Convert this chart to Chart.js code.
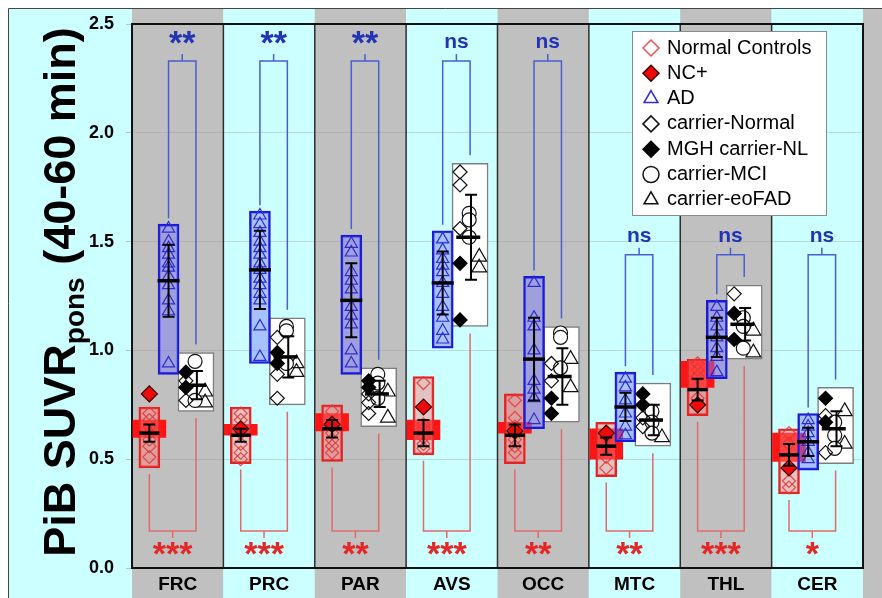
<!DOCTYPE html>
<html>
<head>
<meta charset="utf-8">
<script src="https://cdn.jsdelivr.net/npm/chart.js@4.4.0/dist/chart.umd.min.js"></script>
<style>
  html, body { margin: 0; padding: 0; background: #ffffff; }
  #wrap { width: 882px; height: 598px; }
</style>
</head>
<body>
<div id="wrap"><canvas id="chart" width="882" height="598"></canvas></div>
<script>
const regions = ["FRC", "PRC", "PAR", "AVS", "OCC", "MTC", "THL", "CER"];
const yTicks = [0, 0.5, 1.0, 1.5, 2.0, 2.5];

// Normal controls (range box, red band, mean, sd, single values)
const ncRange = [[0.46, 0.74], [0.48, 0.74], [0.49, 0.75], [0.52, 0.88], [0.48, 0.80], [0.42, 0.67], [0.70, 0.96], [0.34, 0.64]];
const ncBand = [[0.60, 0.68], [0.61, 0.66], [0.63, 0.71], [0.59, 0.68], [0.62, 0.67], [0.50, 0.64], [0.83, 0.95], [0.49, 0.62]];
const ncMean = [0.62, 0.61, 0.64, 0.62, 0.61, 0.56, 0.82, 0.52];
const ncSd = [0.04, 0.03, 0.04, 0.06, 0.05, 0.04, 0.05, 0.05];
const ncValues = [
  [0.71, 0.68, 0.65, 0.62, 0.59, 0.56, 0.51],
  [0.71, 0.68, 0.62, 0.57, 0.53, 0.50],
  [0.72, 0.67, 0.62, 0.59, 0.56, 0.53],
  [0.85, 0.66, 0.64, 0.60, 0.57, 0.55],
  [0.77, 0.69, 0.65, 0.62, 0.59, 0.56, 0.53],
  [0.60, 0.56, 0.51, 0.46],
  [0.94, 0.91, 0.88, 0.78],
  [0.62, 0.57, 0.40, 0.37]
];
const ncPlusValues = [[0.80], [0.64], [0.66], [0.74], [0.63], [0.62], [0.75], [0.46]];

// AD
const adRange = [[0.89, 1.58], [0.94, 1.64], [0.89, 1.53], [1.01, 1.55], [0.64, 1.34], [0.58, 0.90], [0.87, 1.23], [0.45, 0.71]];
const adMean = [1.32, 1.37, 1.23, 1.31, 0.96, 0.74, 1.06, 0.58];
const adSd = [0.165, 0.18, 0.17, 0.145, 0.19, 0.065, 0.09, 0.065];
const adValues = [
  [1.56, 1.50, 1.47, 1.44, 1.40, 1.38, 1.34, 1.30, 1.23, 1.18, 0.94],
  [1.62, 1.58, 1.54, 1.50, 1.47, 1.44, 1.40, 1.37, 1.33, 1.30, 1.26, 1.23, 1.11, 0.97],
  [1.49, 1.45, 1.36, 1.32, 1.28, 1.20, 1.16, 1.12, 1.00, 0.94],
  [1.51, 1.46, 1.42, 1.39, 1.36, 1.31, 1.26, 1.20, 1.15, 1.09, 1.05],
  [1.31, 1.15, 1.11, 1.00, 0.86, 0.82, 0.78, 0.68],
  [0.87, 0.83, 0.77, 0.71, 0.65, 0.61],
  [1.20, 1.15, 1.11, 1.06, 1.01, 0.97, 0.90],
  [0.68, 0.65, 0.62, 0.58, 0.53, 0.50]
];

// mutation carriers
const carRange = [[0.72, 0.99], [0.75, 1.15], [0.65, 0.92], [1.11, 1.86], [0.67, 1.11], [0.56, 0.85], [0.96, 1.30], [0.48, 0.83]];
const carMean = [0.84, 0.97, 0.80, 1.52, 0.88, 0.68, 1.12, 0.64];
const carSd = [0.065, 0.095, 0.06, 0.195, 0.13, 0.07, 0.075, 0.08];
const carNormal = [[0.86, 0.77], [1.06, 0.89, 0.78], [0.80, 0.76, 0.71], [1.82, 1.76, 1.56], [0.94, 0.86], [0.69, 0.65], [1.26], [0.70, 0.53]];
const carNL = [[0.90, 0.83], [0.99, 0.94], [0.86, 0.83], [1.40, 1.14], [0.78, 0.71], [0.80, 0.75], [1.17, 1.05], [0.78, 0.67]];
const carMCI = [[0.95, 0.77], [1.11, 1.09, 0.94], [0.89, 0.85, 0.78], [1.63, 1.60, 1.52], [1.08, 1.06, 0.92], [0.72, 0.67, 0.62], [1.15, 1.11, 1.01], [0.67, 0.61, 0.55]];
const carFAD = [[0.81, 0.76], [0.94, 0.90], [0.81, 0.69], [1.43, 1.38], [0.96, 0.83], [0.60], [1.09, 0.99], [0.72, 0.57]];

// significance
const sigTop = ["**", "**", "**", "ns", "ns", "ns", "ns", "ns"];
const sigBottom = ["***", "***", "**", "***", "**", "**", "***", "*"];
const bracketTop = [2.33, 2.33, 2.33, 2.33, 2.33, 1.44, 1.44, 1.44];
const bracketBottom = [0.17, 0.17, 0.17, 0.17, 0.17, 0.17, 0.17, 0.17];

// where each group sits inside its region column (fraction of column)
const slot = { nc: 0.19, ad: 0.40, car: 0.70, carDiamond: 0.59, carCircle: 0.69, carTriangle: 0.80, carBar: 0.71 };

const GRAY = "#c0c0c0";
const CYAN = "#ccffff";
const FONT = "'Liberation Sans', Arial, Helvetica, sans-serif";

function boxData(ranges, off) {
  return ranges.map((r, i) => ({ x: i + off, y: r }));
}

function pointData(lists, off) {
  const out = [];
  lists.forEach((list, i) => list.forEach(v => out.push({ x: i + off, y: v })));
  return out;
}

function scatterSet(label, lists, off, style, radius, border, fill, order) {
  return {
    type: "scatter",
    label: label,
    data: pointData(lists, off),
    pointStyle: style,
    pointRadius: radius,
    pointBorderColor: border,
    pointBackgroundColor: fill,
    pointBorderWidth: 1.2,
    order: order,
    inLegend: true
  };
}

function boxSet(label, ranges, off, thick, fill, border, bw, order) {
  return {
    type: "bar",
    label: label,
    data: boxData(ranges, off),
    barThickness: thick,
    backgroundColor: fill,
    borderColor: border,
    borderWidth: bw,
    borderSkipped: false,
    grouped: false,
    order: order
  };
}

const datasets = [
  scatterSet("Normal Controls", ncValues, slot.nc, "rectRot", 6.5, "rgba(232,50,50,0.85)", "rgba(255,255,255,0)", 4),
  scatterSet("NC+", ncPlusValues, slot.nc, "rectRot", 8, "#3a0000", "#ee0a0a", 1),
  scatterSet("AD", adValues, slot.ad, "triangle", 7, "#2c2cd2", "rgba(255,255,255,0)", 3),
  scatterSet("carrier-Normal", carNormal, slot.carDiamond, "rectRot", 7, "#111111", "rgba(255,255,255,0)", 5),
  scatterSet("MGH carrier-NL", carNL, slot.carDiamond, "rectRot", 7, "#000000", "#000000", 2),
  scatterSet("carrier-MCI", carMCI, slot.carCircle, "circle", 7, "#111111", "#ffffff", 6),
  scatterSet("carrier-eoFAD", carFAD, slot.carTriangle, "triangle", 8.5, "#111111", "rgba(255,255,255,0)", 7),
  boxSet("AD range", adRange, slot.ad, 21, "rgba(120,120,255,0.45)", "#1a1ad6", 2, 10),
  boxSet("carrier range", carRange, slot.car, 36, "#ffffff", "#7d7d7d", 1.5, 11),
  boxSet("NC range", ncRange, slot.nc, 21, "rgba(255,120,120,0.45)", "#e52222", 2, 12),
  boxSet("NC band", ncBand, slot.nc, 33, "#ff1414", "rgba(0,0,0,0)", 0, 13)
];

function drawMeanSd(ctx, xs, ys, xc, xb, mean, sd, halfW) {
  const xp = xs.getPixelForValue(xc);
  const xq = xs.getPixelForValue(xb);
  const ym = ys.getPixelForValue(mean);
  const y1 = ys.getPixelForValue(mean + sd);
  const y2 = ys.getPixelForValue(mean - sd);
  ctx.strokeStyle = "#000000";
  ctx.lineWidth = 2;
  ctx.beginPath();
  ctx.moveTo(xq, y1); ctx.lineTo(xq, y2);
  ctx.moveTo(xq - 6, y1); ctx.lineTo(xq + 6, y1);
  ctx.moveTo(xq - 6, y2); ctx.lineTo(xq + 6, y2);
  ctx.stroke();
  ctx.lineWidth = 3.5;
  ctx.beginPath();
  ctx.moveTo(xp - halfW, ym); ctx.lineTo(xp + halfW, ym);
  ctx.stroke();
}

function drawBracket(ctx, xl, xr, yl, yr, ya, tick, color) {
  ctx.strokeStyle = color;
  ctx.lineWidth = 1.5;
  ctx.beginPath();
  ctx.moveTo(xl, yl); ctx.lineTo(xl, ya); ctx.lineTo(xr, ya); ctx.lineTo(xr, yr);
  const xm = (xl + xr) / 2;
  ctx.moveTo(xm, ya); ctx.lineTo(xm, ya + tick);
  ctx.stroke();
}

const figurePlugin = {
  id: "figure",
  beforeDraw(chart) {
    const { ctx, width, height } = chart;
    const xs = chart.scales.x;
    ctx.save();
    ctx.fillStyle = "#ffffff";
    ctx.fillRect(0, 0, width, height);
    ctx.fillStyle = CYAN;
    ctx.fillRect(8, 8, width - 8, height - 8);
    for (let i = 0; i <= regions.length; i++) {
      const x0 = xs.getPixelForValue(i);
      const x1 = Math.min(xs.getPixelForValue(i + 1), width);
      ctx.fillStyle = i % 2 === 0 ? GRAY : CYAN;
      ctx.fillRect(x0, 8, x1 - x0, height - 8);
    }
    ctx.strokeStyle = "#444444";
    ctx.lineWidth = 1;
    ctx.beginPath();
    ctx.moveTo(8.5, height); ctx.lineTo(8.5, 8.5); ctx.lineTo(width, 8.5);
    ctx.stroke();
    ctx.restore();
  },
  beforeDatasetsDraw(chart) {
    const { ctx, chartArea: a } = chart;
    const xs = chart.scales.x;
    ctx.save();
    ctx.strokeStyle = "#2e2e2e";
    ctx.lineWidth = 1.5;
    ctx.beginPath();
    for (let i = 1; i < regions.length; i++) {
      const xp = xs.getPixelForValue(i);
      ctx.moveTo(xp, a.top); ctx.lineTo(xp, a.bottom);
    }
    ctx.stroke();
    ctx.lineWidth = 2;
    ctx.strokeStyle = "#111111";
    ctx.strokeRect(a.left, a.top, a.right - a.left, a.bottom - a.top);
    ctx.restore();
  },
  afterDatasetsDraw(chart) {
    const { ctx } = chart;
    const xs = chart.scales.x;
    const ys = chart.scales.y;
    ctx.save();
    regions.forEach((name, i) => {
      drawMeanSd(ctx, xs, ys, i + slot.nc, i + slot.nc, ncMean[i], ncSd[i], 10);
      drawMeanSd(ctx, xs, ys, i + slot.ad, i + slot.ad, adMean[i], adSd[i], 11);
      drawMeanSd(ctx, xs, ys, i + slot.car - 0.02, i + slot.carBar, carMean[i], carSd[i], 12);

      const xNc = xs.getPixelForValue(i + slot.nc);
      const xAd = xs.getPixelForValue(i + slot.ad);
      const xCar = xs.getPixelForValue(i + slot.car);

      // AD vs carriers
      const yTop = ys.getPixelForValue(bracketTop[i]);
      drawBracket(ctx, xAd, xCar,
        ys.getPixelForValue(adRange[i][1]) - 6,
        ys.getPixelForValue(carRange[i][1]) - 8,
        yTop, -7, "#4a5ed0");
      ctx.fillStyle = "#2233b4";
      ctx.textAlign = "center";
      ctx.textBaseline = "alphabetic";
      if (sigTop[i] === "ns") {
        ctx.font = "bold 21px " + FONT;
        ctx.fillText(sigTop[i], (xAd + xCar) / 2, yTop - 13);
      } else {
        ctx.font = "bold 34px " + FONT;
        ctx.fillText(sigTop[i], (xAd + xCar) / 2, yTop - 7);
      }

      // NC vs carriers
      const yBot = ys.getPixelForValue(bracketBottom[i]);
      drawBracket(ctx, xNc, xCar,
        ys.getPixelForValue(ncRange[i][0]) + 6,
        ys.getPixelForValue(carRange[i][0]) + 7,
        yBot, 7, "#e06a6a");
      ctx.fillStyle = "#e52626";
      ctx.font = "bold 34px " + FONT;
      ctx.fillText(sigBottom[i], (xNc + xCar) / 2, yBot + 34);
    });
    ctx.restore();
  },
  afterDraw(chart) {
    const { ctx } = chart;
    ctx.save();

    // y axis title with subscript
    const big = "bold 45px " + FONT;
    const small = "bold 28px " + FONT;
    const partA = "PiB SUVR";
    const partB = "pons";
    const partC = " (40-60 min)";
    ctx.font = big;
    const wA = ctx.measureText(partA).width;
    const wC = ctx.measureText(partC).width;
    ctx.font = small;
    const wB = ctx.measureText(partB).width;
    const total = wA + wB + wC;
    ctx.translate(75, 292);
    ctx.rotate(-Math.PI / 2);
    ctx.fillStyle = "#000000";
    ctx.textAlign = "left";
    ctx.textBaseline = "alphabetic";
    let px = -total / 2;
    ctx.font = big;
    ctx.fillText(partA, px, 0);
    px += wA;
    ctx.font = small;
    ctx.fillText(partB, px, 9);
    px += wB;
    ctx.font = big;
    ctx.fillText(partC, px, 0);
    ctx.setTransform(1, 0, 0, 1, 0, 0);

    // legend
    const lx = 632, ly = 31, lw = 194, lh = 184;
    ctx.fillStyle = "#ffffff";
    ctx.fillRect(lx, ly, lw, lh);
    ctx.strokeStyle = "#8a8a8a";
    ctx.lineWidth = 1;
    ctx.strokeRect(lx + 0.5, ly + 0.5, lw, lh);
    const items = chart.data.datasets.filter(d => d.inLegend);
    ctx.font = "20px " + FONT;
    ctx.textBaseline = "middle";
    items.forEach((d, k) => {
      const yy = ly + 16 + k * 25.3;
      ctx.fillStyle = d.pointBackgroundColor;
      ctx.strokeStyle = d.pointBorderColor;
      ctx.lineWidth = 1.5;
      Chart.helpers.drawPoint(ctx, {
        pointStyle: d.pointStyle,
        radius: 8,
        rotation: 0,
        borderWidth: 1.5
      }, lx + 19, yy + 1);
      ctx.fillStyle = "#000000";
      ctx.fillText(d.label, lx + 35, yy + 1);
    });
    ctx.restore();
  }
};

new Chart(document.getElementById("chart"), {
  type: "bar",
  data: { datasets: datasets },
  options: {
    responsive: false,
    devicePixelRatio: 1,
    animation: false,
    events: [],
    layout: { padding: { top: 24, right: 19, left: 0, bottom: 0 } },
    plugins: {
      legend: { display: false },
      tooltip: { enabled: false }
    },
    scales: {
      x: {
        type: "linear",
        min: 0,
        max: 8,
        offset: false,
        afterBuildTicks: s => { s.ticks = regions.map((_, i) => ({ value: i + 0.5 })); },
        afterFit: s => { s.height = 30; },
        grid: { display: false },
        border: { display: false },
        ticks: {
          autoSkip: false,
          maxRotation: 0,
          padding: -3,
          color: "#000000",
          font: { family: FONT, size: 19, weight: "bold" },
          callback: (v, i) => regions[i]
        }
      },
      y: {
        type: "linear",
        min: 0,
        max: 2.5,
        afterBuildTicks: s => { s.ticks = yTicks.map(v => ({ value: v })); },
        afterFit: s => { s.width = 132; },
        grid: { color: "rgba(150,150,150,0.35)", tickLength: 6, tickColor: "rgba(160,160,160,0.6)" },
        border: { display: false },
        ticks: {
          padding: 12,
          color: "#000000",
          font: { family: FONT, size: 18, weight: "bold" },
          callback: v => v.toFixed(1)
        }
      }
    }
  },
  plugins: [figurePlugin]
});
</script>
</body>
</html>
